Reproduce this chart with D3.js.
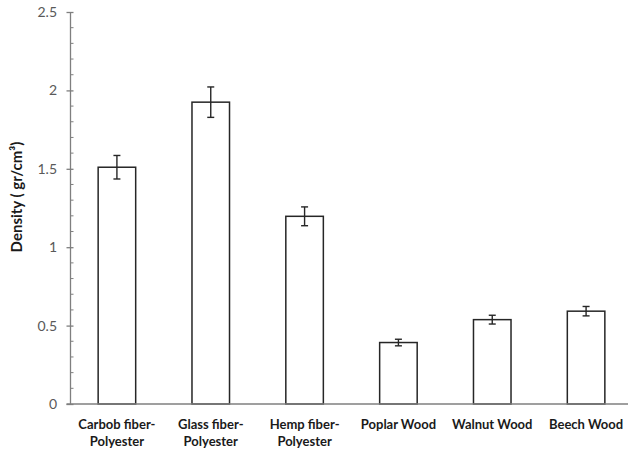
<!DOCTYPE html>
<html lang="en">
<head>
<meta charset="utf-8">
<script src="https://d3js.org/d3.v7.min.js"></script>
<style>
  body { margin: 0; background: #fff; }
  text { font-family: Lato, "Open Sans", sans-serif; }
</style>
</head>
<body>
<script>
    // chart data
    const categories = ['Carbob fiber-\nPolyester', 'Glass fiber-\nPolyester', 'Hemp fiber-\nPolyester', 'Poplar Wood', 'Walnut Wood', 'Beech Wood'];
    const density = [1.51, 1.925, 1.197, 0.392, 0.538, 0.592];
    const errors = [0.075, 0.097, 0.06, 0.021, 0.028, 0.03];
    const yTicks = [0, 0.5, 1, 1.5, 2, 2.5];

    const width = 628, height = 452;
    const plot = { left: 70, right: 633, top: 12, bottom: 404 };

    const svg = d3.select('body').append('svg')
        .attr('width', width)
        .attr('height', height);

    const xScale = d3.scaleBand()
        .domain(categories)
        .range([plot.left, plot.right])
        .paddingInner(0.6)
        .paddingOuter(0.3);

    const yScale = d3.scaleLinear()
        .domain([0, 2.5])
        .range([plot.bottom, plot.top]);

    // minor ticks every 0.1, inside only
    const minor = d3.range(0, 2.51, 0.1).filter(v => Math.abs(v * 2 - Math.round(v * 2)) > 0.01);
    svg.append('g')
        .selectAll('line')
        .data(minor)
        .enter()
        .append('line')
        .attr('x1', plot.left)
        .attr('x2', plot.left + 3.5)
        .attr('y1', d => yScale(d))
        .attr('y2', d => yScale(d))
        .attr('stroke', '#7f7f7f')
        .attr('stroke-width', 1);

    const yAxis = d3.axisLeft(yScale)
        .tickValues(yTicks)
        .tickFormat(d => d)
        .tickSizeInner(-3.5)
        .tickSizeOuter(0)
        .tickPadding(8);

    const yg = svg.append('g')
        .attr('transform', 'translate(' + plot.left + ',0)')
        .call(yAxis);
    yg.select('.domain').attr('stroke', '#7f7f7f').attr('stroke-width', 1.3);
    // major ticks cross the axis
    yg.selectAll('.tick line')
        .attr('x1', -3.5)
        .attr('x2', 3.5)
        .attr('stroke', '#7f7f7f')
        .attr('stroke-width', 1.3);
    yg.selectAll('.tick text')
        .attr('x', -13)
        .attr('fill', '#595959')
        .style('font-size', '14px');

    // bars
    svg.selectAll('rect.bar')
        .data(density)
        .enter()
        .append('rect')
        .attr('class', 'bar')
        .attr('x', (d, i) => xScale(categories[i]))
        .attr('y', d => yScale(d))
        .attr('width', xScale.bandwidth())
        .attr('height', d => plot.bottom - yScale(d))
        .attr('fill', '#fff')
        .attr('stroke', '#262626')
        .attr('stroke-width', 1.5);

    // error bars
    const eb = svg.append('g').attr('stroke', '#262626').attr('stroke-width', 1.4);
    density.forEach((d, i) => {
        const cx = xScale(categories[i]) + xScale.bandwidth() / 2;
        const y1 = yScale(d + errors[i]);
        const y2 = yScale(d - errors[i]);
        eb.append('line').attr('x1', cx).attr('x2', cx).attr('y1', y1).attr('y2', y2);
        eb.append('line').attr('x1', cx - 3.5).attr('x2', cx + 3.5).attr('y1', y1).attr('y2', y1);
        eb.append('line').attr('x1', cx - 3.5).attr('x2', cx + 3.5).attr('y1', y2).attr('y2', y2);
    });

    // x axis line
    svg.append('line')
        .attr('x1', plot.left - 3.5)
        .attr('x2', width)
        .attr('y1', plot.bottom)
        .attr('y2', plot.bottom)
        .attr('stroke', '#7f7f7f')
        .attr('stroke-width', 1.3);

    // category labels, two lines where needed
    const labels = svg.append('g');
    categories.forEach(c => {
        const cx = xScale(c) + xScale.bandwidth() / 2;
        const t = labels.append('text')
            .attr('x', cx)
            .attr('y', 429)
            .attr('text-anchor', 'middle')
            .attr('fill', '#1a1a1a')
            .style('font-size', '13px')
            .style('font-weight', 'bold');
        c.split('\n').forEach((line, j) => {
            t.append('tspan')
                .attr('x', cx)
                .attr('dy', j === 0 ? 0 : 17)
                .text(line);
        });
    });

    // y axis title
    svg.append('text')
        .attr('transform', 'translate(22,197) rotate(-90)')
        .attr('text-anchor', 'middle')
        .attr('fill', '#1a1a1a')
        .style('font-size', '15px')
        .style('font-weight', 'bold')
        .text('Density ( gr/cm³)');
</script>
</body>
</html>
